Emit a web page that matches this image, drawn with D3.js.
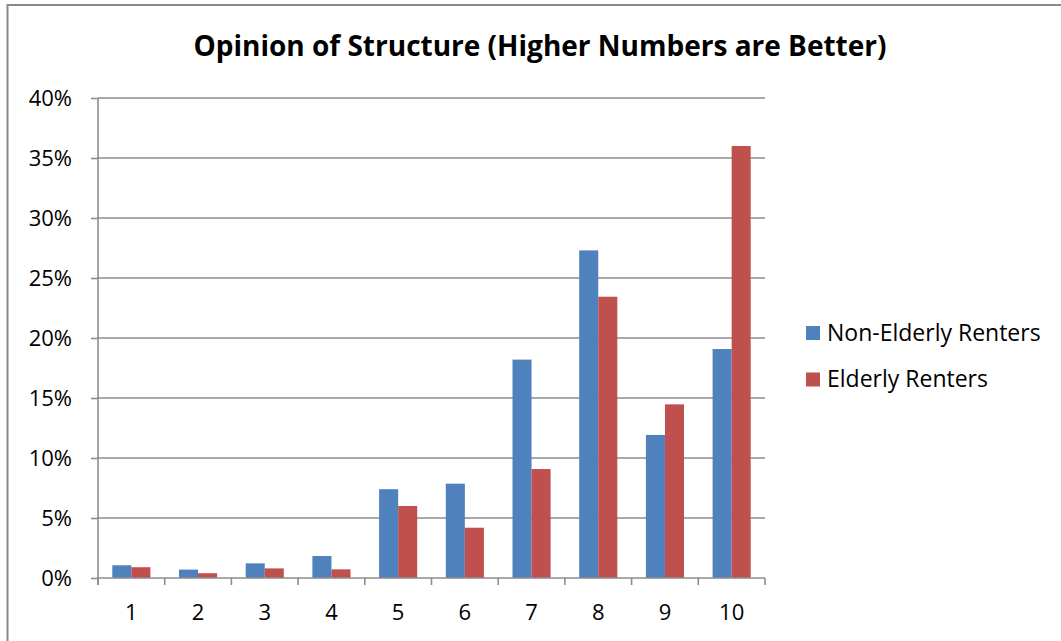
<!DOCTYPE html>
<html>
<head>
<meta charset="utf-8">
<script src="https://cdn.jsdelivr.net/npm/d3@7"></script>
<style>
  html, body { margin: 0; padding: 0; background: #fff; }
  svg { display: block; }
  text { font-family: "Open Sans", "Noto Sans", sans-serif; fill: #000; }
</style>
</head>
<body>
<svg id="chart" width="1061" height="641"></svg>
<script>
// Rating categories (1 = worst, 10 = best)
const categories = ["1", "2", "3", "4", "5", "6", "7", "8", "9", "10"];
// Share of respondents (%) giving each rating
const nonElderly = [1.06, 0.7, 1.22, 1.83, 7.4, 7.86, 18.2, 27.3, 11.92, 19.08];
const elderly    = [0.9, 0.4, 0.8, 0.72, 6.0, 4.19, 9.08, 23.44, 14.47, 36.0];
const seriesNames = ["Non-Elderly Renters", "Elderly Renters"];
const seriesColors = ["#4F81BD", "#C0504D"];
const yTicks = [0, 5, 10, 15, 20, 25, 30, 35, 40];
const titleText = "Opinion of Structure (Higher Numbers are Better)";

const svg = d3.select("#chart");
const plot = { left: 98, right: 765, top: 98, bottom: 578 };
const gridColor = "#8c8c8c";

// Outer chart frame (left and top edges)
svg.append("path")
  .attr("d", "M7.5,641 V5 H1061")
  .attr("fill", "none")
  .attr("stroke", "#8a8a8a")
  .attr("stroke-width", 2);

// Title
svg.append("text")
  .attr("x", 540).attr("y", 56)
  .attr("text-anchor", "middle")
  .style("font-weight", "bold")
  .style("font-size", "28px")
  .text(titleText);

const y = d3.scaleLinear().domain([0, 40]).range([plot.bottom, plot.top]);
const x0 = d3.scaleBand().domain(categories).range([plot.left, plot.right]).padding(0);
const x1 = d3.scaleBand().domain(d3.range(seriesNames.length))
  .range([0, x0.bandwidth()]).paddingInner(0).paddingOuter(0.75);

// Horizontal gridlines
svg.append("g").selectAll("line")
  .data(yTicks.filter(d => d > 0))
  .join("line")
  .attr("x1", plot.left).attr("x2", plot.right)
  .attr("y1", d => y(d)).attr("y2", d => y(d))
  .attr("stroke", gridColor).attr("stroke-width", 1.6);

// Y axis
const yAxis = d3.axisLeft(y).tickValues(yTicks).tickSize(7).tickPadding(19)
  .tickFormat(d => d + "%");
const gy = svg.append("g").attr("transform", `translate(${plot.left},0)`).call(yAxis);
gy.select(".domain").attr("d", `M0,${plot.top} V${plot.bottom + 7}`)
  .attr("stroke", gridColor).attr("stroke-width", 1.6);
gy.selectAll(".tick line").attr("stroke", gridColor).attr("stroke-width", 1.6);
gy.selectAll(".tick text")
  .style("font-family", "'Open Sans', sans-serif")
  .style("font-size", "22px").attr("fill", "#000");

// Bars
const series = [nonElderly, elderly];
const groups = svg.append("g").selectAll("g")
  .data(categories)
  .join("g")
  .attr("transform", d => `translate(${x0(d)},0)`);
groups.selectAll("rect")
  .data((d, i) => series.map((s, k) => ({ k, v: s[i] })))
  .join("rect")
  .attr("x", d => x1(d.k))
  .attr("width", x1.bandwidth())
  .attr("y", d => y(d.v))
  .attr("height", d => y(0) - y(d.v))
  .attr("fill", d => seriesColors[d.k]);

// X axis with tick marks on category boundaries
svg.append("line")
  .attr("x1", plot.left).attr("x2", plot.right)
  .attr("y1", plot.bottom).attr("y2", plot.bottom)
  .attr("stroke", gridColor).attr("stroke-width", 1.6);
const boundaries = categories.map(c => x0(c)).concat([plot.right]);
svg.append("g").selectAll("line")
  .data(boundaries)
  .join("line")
  .attr("x1", d => d).attr("x2", d => d)
  .attr("y1", plot.bottom).attr("y2", plot.bottom + 7)
  .attr("stroke", gridColor).attr("stroke-width", 1.6);
svg.append("g").selectAll("text")
  .data(categories)
  .join("text")
  .attr("x", d => x0(d) + x0.bandwidth() / 2)
  .attr("y", 620)
  .attr("text-anchor", "middle")
  .style("font-size", "22px")
  .text(d => d);

// Legend
const legend = svg.append("g").selectAll("g")
  .data(seriesNames)
  .join("g")
  .attr("transform", (d, i) => `translate(806,${326 + i * 46.5})`);
legend.append("rect")
  .attr("width", 14).attr("height", 14)
  .attr("fill", (d, i) => seriesColors[i]);
legend.append("text")
  .attr("x", 21).attr("y", 14.5)
  .style("font-size", "23px")
  .text(d => d);
</script>
</body>
</html>
